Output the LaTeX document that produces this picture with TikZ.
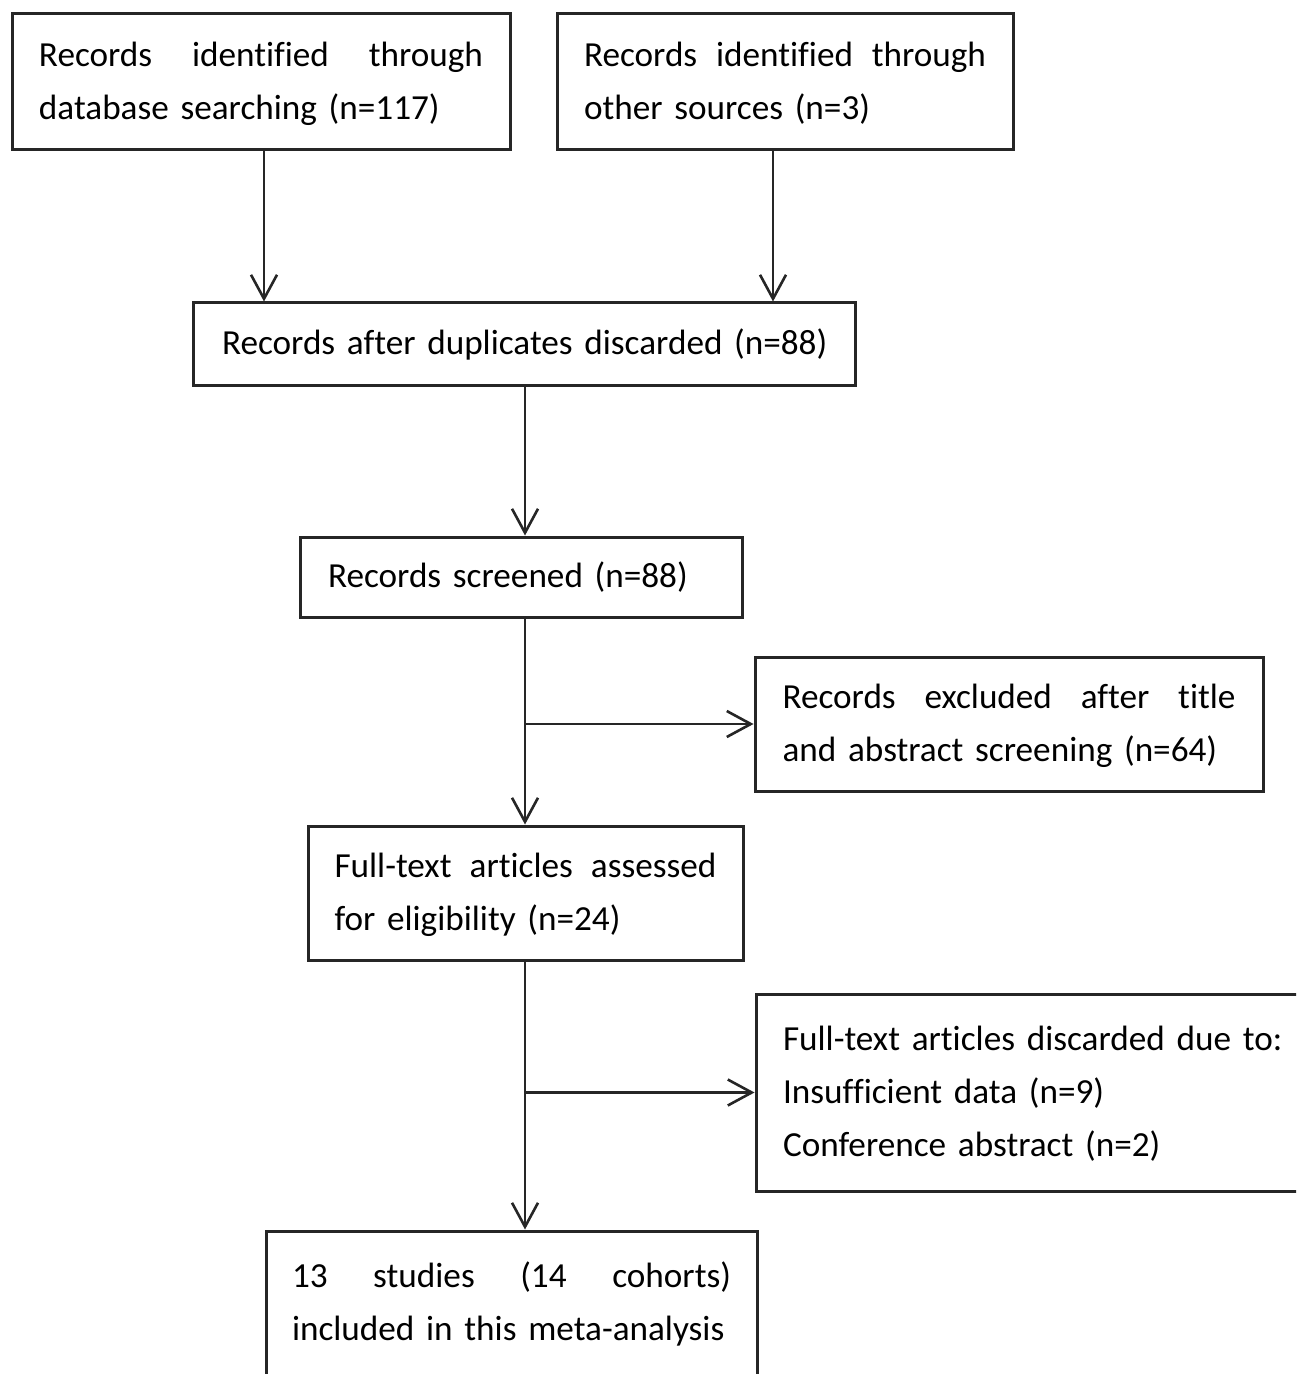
\documentclass[tikz,border=0pt]{standalone}
\usepackage{fontspec}
\setmainfont[Ligatures=NoCommon]{Carlito}
\usetikzlibrary{arrows.meta,calc}
\setlength{\parindent}{0pt}
\newcommand\jline[1]{\leavevmode\hbox to\hsize{\strut#1}}
\newcommand\fl[1]{\mbox{\strut#1}}
\begin{document}
\begin{tikzpicture}[x=0.5pt,y=-0.5pt,
  box/.style={draw=black!85, line width=1.5pt, inner sep=0pt, align=left,
    font=\fontsize{17.6pt}{26.5pt}\selectfont},
  arr/.style={draw=black!85, line width=1.3pt, -{Straight Barb[length=12pt,width=13pt]}}]
\clip (0,0) rectangle (1296,1374);
\fill[white] (0,0) rectangle (1296,1374);
\node[box, minimum width=249pt, minimum height=68pt, text width=222pt] (A) at (261,82)
  {\jline{Records\hfill identified\hfill through}\\\fl{database searching (n=117)}};
\node[box, minimum width=228pt, minimum height=68pt, text width=201pt] (B) at (785,82)
  {\jline{Records\hfill identified\hfill through}\\\fl{other sources (n=3)}};
\node[box, minimum width=331pt, minimum height=41pt, text width=302pt] (C) at (524,344)
  {\fl{Records after duplicates discarded (n=88)}};
\node[box, minimum width=221pt, minimum height=40pt, text width=193pt] (D) at (521,577)
  {\fl{Records screened (n=88)}};
\node[box, minimum width=254pt, minimum height=67pt, text width=226.5pt] (E) at (1009,724)
  {\jline{Records\hfill excluded\hfill after\hfill title}\\\fl{and abstract screening (n=64)}};
\node[box, minimum width=217.5pt, minimum height=67pt, text width=191pt] (F) at (525.5,893)
  {\jline{Full-text\hfill articles\hfill assessed}\\\fl{for eligibility (n=24)}};
\node[box, minimum width=292pt, minimum height=98.5pt, text width=265pt] (G) at (1048,1092.5)
  {\fl{Full-text articles discarded due to:}\\\fl{Insufficient data (n=9)}\\\fl{Conference abstract (n=2)}};
\node[box, minimum width=245.5pt, minimum height=98.5pt, text width=219.5pt] (H) at (511.5,1329.5)
  {\jline{13\hfill studies\hfill (14\hfill cohorts)}\\\fl{included in this meta-analysis}\\\strut};
\coordinate (sp) at (525,0);
\draw[arr] ([xshift=1.5pt]A.south) -- ([xshift=1.5pt]A.south |- C.north);
\draw[arr] ([xshift=-6pt]B.south) -- ([xshift=-6pt]B.south |- C.north);
\draw[arr] (sp |- C.south) -- (sp |- D.north);
\draw[arr] (sp |- D.south) -- (sp |- F.north);
\draw[arr] (sp |- E.west) -- (E.west);
\draw[arr] (sp |- F.south) -- (sp |- H.north);
\draw[arr] (sp |- G.west) -- (G.west);
\end{tikzpicture}
\end{document}
